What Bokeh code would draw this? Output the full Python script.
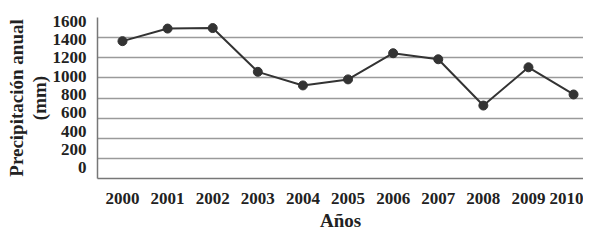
from bokeh.plotting import figure
from bokeh.models import Range1d, LinearAxis, FixedTicker, Title
from bokeh.embed import file_html
from bokeh.resources import INLINE

years = [2000, 2001, 2002, 2003, 2004, 2005, 2006, 2007, 2008, 2009, 2010]
precip = [1365, 1490, 1495, 1060, 925, 985, 1245, 1185, 725, 1105, 835]
y_ticks = [0, 200, 400, 600, 800, 1000, 1200, 1400, 1600]

FONT = "Liberation Serif"

p = figure(width=583, height=233, output_backend="svg", toolbar_location=None,
           x_range=Range1d(1999.446, 2010.22), y_range=Range1d(0, 1600),
           min_border_left=97, min_border_top=17, min_border_right=0,
           min_border_bottom=0)
p.outline_line_color = None
p.background_fill_color = "white"
p.border_fill_color = "white"

# default y axis hidden; labels drawn on an offset axis as in reference
p.yaxis.visible = False
p.extra_y_ranges = {"lab": Range1d(-117.7, 1638.6)}
ax = LinearAxis(y_range_name="lab", ticker=FixedTicker(ticks=y_ticks))
ax.axis_line_color = "#777777"
ax.axis_line_width = 1.5
ax.major_tick_line_color = None
ax.minor_tick_line_color = None
ax.major_label_standoff = 5
ax.major_label_text_font = FONT
ax.major_label_text_font_style = "bold"
ax.major_label_text_font_size = "17px"
ax.major_label_text_color = "#222222"
p.add_layout(ax, "left")

p.ygrid.ticker = FixedTicker(ticks=y_ticks)
p.ygrid.grid_line_color = "#9a9a9a"
p.ygrid.grid_line_width = 1.5
p.xgrid.visible = False

p.xaxis.ticker = FixedTicker(ticks=years)
p.xaxis.axis_line_color = "#777777"
p.xaxis.axis_line_width = 1.5
p.xaxis.major_tick_line_color = None
p.xaxis.minor_tick_line_color = None
p.xaxis.major_label_standoff = 8
p.xaxis.major_label_text_font = FONT
p.xaxis.major_label_text_font_style = "bold"
p.xaxis.major_label_text_font_size = "17px"
p.xaxis.major_label_text_color = "#222222"
p.xaxis.axis_label = "Años"
p.xaxis.axis_label_standoff = 3
p.xaxis.axis_label_text_font = FONT
p.xaxis.axis_label_text_font_style = "bold"
p.xaxis.axis_label_text_font_size = "19px"
p.xaxis.axis_label_text_color = "#222222"

for txt in ["(mm)", "Precipitación anual"]:
    t = Title(text=txt, align="center", text_font=FONT, text_font_style="bold",
              text_font_size="19px", text_color="#222222", standoff=0)
    p.add_layout(t, "left")

p.line(years, precip, line_color="#333333", line_width=2)
p.scatter(years, precip, size=9, fill_color="#333333", line_color="#333333")

open("out.html", "w").write(file_html(p, INLINE))
